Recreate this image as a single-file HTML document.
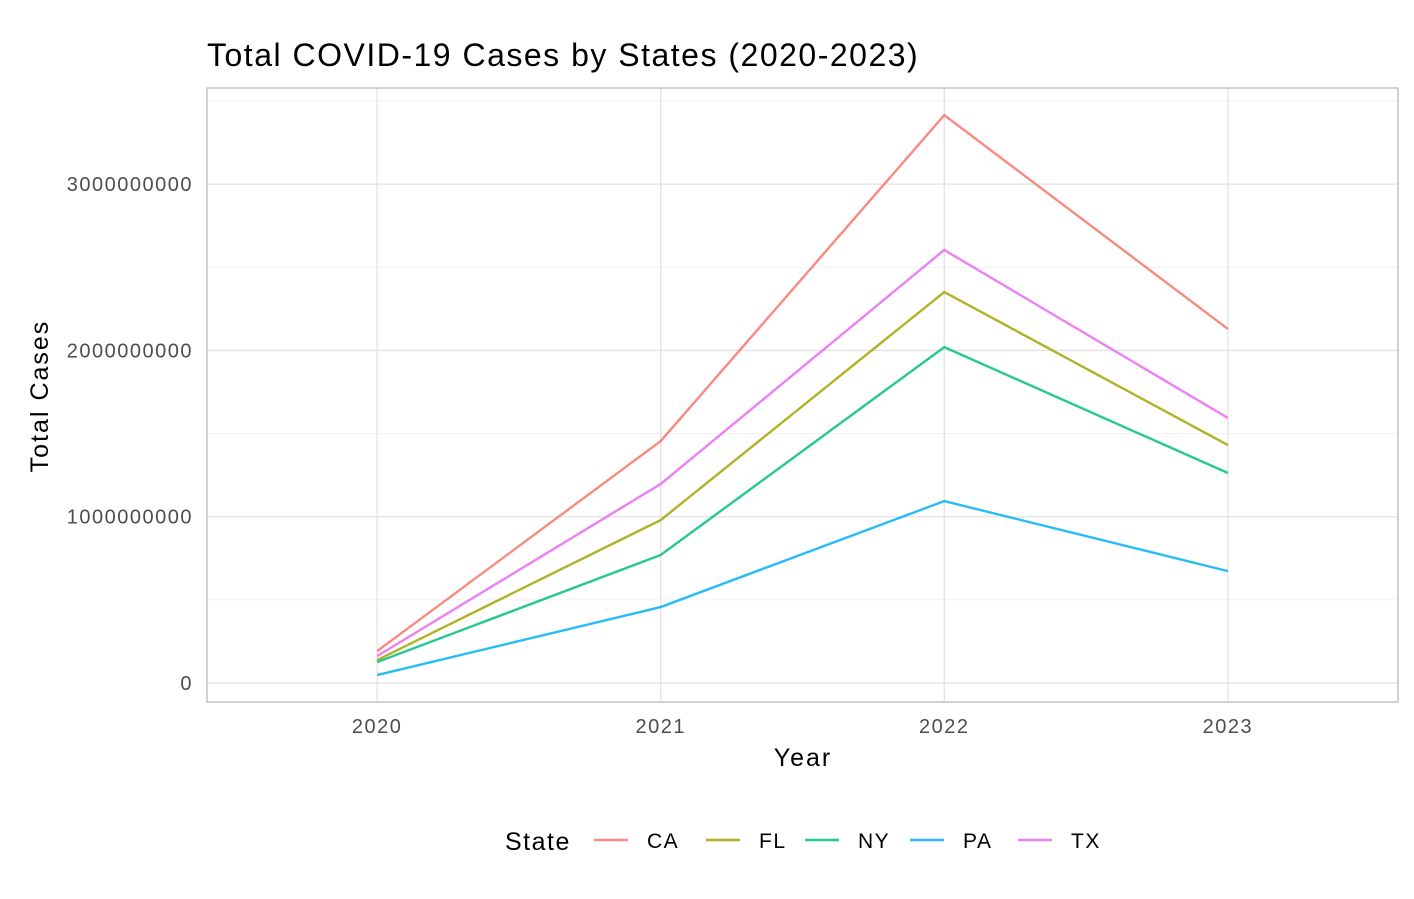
<!DOCTYPE html>
<html><head><meta charset="utf-8"><style>
body{margin:0;background:#fff;font-family:"Liberation Sans",Arial,sans-serif;}
svg text{font-family:"Liberation Sans",Arial,sans-serif;}
</style></head><body>
<svg id="chart" width="1414" height="894" viewBox="0 0 1414 894">
<text x="207" y="66" font-size="32" letter-spacing="1.5" fill="#000">Total COVID-19 Cases by States (2020-2023)</text>
<g id="grid"></g>
<rect x="207" y="88" width="1191" height="614" fill="none" stroke="#b3b3b3" stroke-width="1.2"/>
<g id="lines"></g>
<g id="axes"></g>
<text x="803" y="766" font-size="25" letter-spacing="2" text-anchor="middle">Year</text>
<text transform="translate(48,396) rotate(-90)" font-size="25" letter-spacing="2" text-anchor="middle">Total Cases</text>
<g id="legend"></g>
</svg>
<script>
const years = [2020, 2021, 2022, 2023];
const states = ["CA", "FL", "NY", "PA", "TX"];
const colors = ["#F8766D", "#A3A500", "#00BF7D", "#00B0F6", "#E76BF3"];
const caValues = [0.192e9, 1.455e9, 3.415e9, 2.129e9];
const flValues = [0.138e9, 0.98e9, 2.351e9, 1.431e9];
const nyValues = [0.126e9, 0.77e9, 2.02e9, 1.263e9];
const paValues = [0.048e9, 0.457e9, 1.094e9, 0.673e9];
const txValues = [0.162e9, 1.197e9, 2.604e9, 1.594e9];
const yTicks = [0, 1e9, 2e9, 3e9];
const yTickLabels = ["0", "1000000000", "2000000000", "3000000000"];
const yMinor = [0.5e9, 1.5e9, 2.5e9, 3.5e9];

const NS = "http://www.w3.org/2000/svg";
const X0=207, X1=1398, Y0=702, Y1=88;
const xMin=2019.4, xMax=2023.6, yMin=-0.114e9, yMax=3.578e9;
const xs = v => X0 + (v - xMin) / (xMax - xMin) * (X1 - X0);
const ys = v => Y0 - (v - yMin) / (yMax - yMin) * (Y0 - Y1);
function mk(tag, attrs, parent){const e=document.createElementNS(NS,tag);for(const k in attrs)e.setAttribute(k,attrs[k]);parent.appendChild(e);return e;}
const grid=document.getElementById("grid"), axes=document.getElementById("axes"), lines=document.getElementById("lines"), legend=document.getElementById("legend");
yMinor.forEach(v=>{const l=mk("line",{x1:X0,x2:X1,y1:ys(v),y2:ys(v),stroke:"#f0f0f0","stroke-width":1},grid);

});
yTicks.forEach((v,i)=>{const l=mk("line",{x1:X0,x2:X1,y1:ys(v),y2:ys(v),stroke:"#e3e3e3","stroke-width":1.3},grid);


const t=mk("text",{x:193,y:ys(v)+7,"font-size":20,"letter-spacing":1.5,fill:"#4d4d4d","text-anchor":"end"},axes);t.textContent=yTickLabels[i];

});
years.forEach(v=>{const l=mk("line",{x1:xs(v),x2:xs(v),y1:Y1,y2:Y0,stroke:"#e3e3e3","stroke-width":1.3},grid);


const t=mk("text",{x:xs(v),y:733,"font-size":20,"letter-spacing":1.5,fill:"#4d4d4d","text-anchor":"middle"},axes);t.textContent=v;

});
const series=[caValues,flValues,nyValues,paValues,txValues];
series.forEach((vals,i)=>{const p=mk("polyline",{points:vals.map((v,j)=>xs(years[j])+","+ys(v)).join(" "),fill:"none",stroke:colors[i],"stroke-width":2.4,"stroke-opacity":0.85},lines);

});
const st=mk("text",{x:505,y:850,"font-size":25,"letter-spacing":1.5},legend);st.textContent="State";


const lx=[594,706,805,910,1018];
states.forEach((s,i)=>{const g=mk("g",{},legend);


mk("line",{x1:lx[i],x2:lx[i]+34,y1:840,y2:840,stroke:colors[i],"stroke-width":2.4,"stroke-opacity":0.85},g);
const t=mk("text",{x:lx[i]+53,y:848,"font-size":21,"letter-spacing":1.5},g);t.textContent=s;});
</script>
</body></html>
